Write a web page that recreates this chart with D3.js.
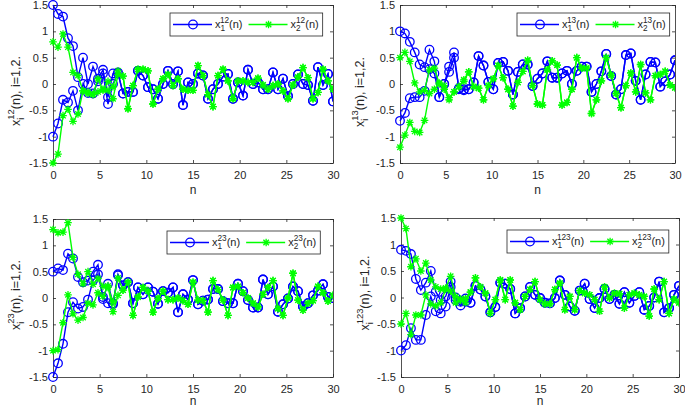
<!DOCTYPE html>
<html lang="en">
<head>
<meta charset="UTF-8">
<title>x_i(n), i=1,2</title>
<script src="https://d3js.org/d3.v7.min.js"></script>
<style>
  body { margin: 0; background: #fff; font-family: "Liberation Sans", Arial, sans-serif; }
  svg text { fill: #262626; }
</style>
</head>
<body>
<div id="container"></div>
<script>
// 57 samples from n = 0 to n = 30
const nCount = 57;
const nTicks = [0, 5, 10, 15, 20, 25, 30];
const yTicks = [-1.5, -1, -0.5, 0, 0.5, 1, 1.5];
const names = ["12", "13", "23", "123"];

// first 14 samples of each trajectory (two initial conditions a / b), then shared tail
// ---- x^12 ----
const x12_1a = [1.5, 1.33, 1.28, 0.87, 0.72, 0.13, 0.5, 0.0, 0.33, 0.1, 0.27, -0.25, 0.2, 0.2];
const x12_1b = [-1.0, -0.75, -0.3, -0.35, -0.13, -0.5, 0.0, -0.17, -0.18, 0.05, 0.2, -0.38, 0.0, 0.22];
const x12_2a = [0.8, 0.7, 0.95, 0.7, 0.22, 0.16, -0.13, -0.15, -0.2, 0.1, -0.12, 0.05, -0.05, 0.25];
const x12_2b = [-1.5, -1.33, -0.6, -0.48, -0.71, -0.57, -0.13, -0.18, -0.2, -0.15, -0.1, -0.12, -0.28, 0.18];
const x12_1t = [-0.18, -0.15, -0.15, 0.25, 0.16, -0.06, -0.1, -0.28, 0.0, 0.25, 0.0, 0.24, -0.4, 0.03, 0.0, 0.2, 0.16, -0.28, -0.1, 0.0, 0.14, 0.19, -0.28, 0.03, -0.22, 0.27, 0.0, 0.03, -0.1, -0.1, 0.22, -0.1, 0.1, -0.23, 0.0, 0.18, 0.0, -0.02, -0.32, 0.32, -0.02, 0.19, -0.33];
const x12_2t = [0.15, -0.47, -0.03, 0.28, 0.28, 0.25, -0.38, -0.1, 0.1, 0.18, -0.03, 0.1, -0.1, -0.12, -0.12, 0.35, 0.16, -0.2, -0.43, 0.16, 0.28, 0.06, -0.28, 0.06, 0.06, 0.03, 0.03, 0.11, -0.02, -0.1, -0.03, 0.0, -0.13, -0.28, -0.02, 0.13, 0.31, 0.12, -0.28, -0.16, 0.28, 0.06, -0.1];

// ---- x^13 ----
const x13_1a = [1.0, 0.96, 0.8, 0.6, 0.37, 0.32, 0.65, 0.43, -0.25, 0.0, 0.33, 0.6, -0.1, -0.12];
const x13_1b = [-0.7, -0.55, -0.27, -0.25, -0.25, -0.13, 0.28, 0.2, -0.25, 0.0, 0.23, 0.5, -0.08, -0.1];
const x13_2a = [0.5, 0.6, 0.43, 0.02, -0.15, -0.12, 0.27, 0.3, 0.0, -0.03, -0.26, -0.15, -0.05, 0.08];
const x13_2b = [-1.2, -0.97, -0.73, -0.9, -0.92, -0.69, -0.18, -0.1, 0.02, -0.1, -0.3, -0.15, -0.05, 0.05];
const x13_1t = [-0.1, 0.03, 0.53, 0.35, 0.04, -0.1, 0.4, 0.42, 0.25, -0.2, 0.23, 0.37, 0.37, -0.04, 0.1, 0.2, 0.43, 0.12, 0.12, 0.2, 0.25, 0.0, 0.25, 0.33, 0.33, -0.15, 0.0, 0.24, 0.57, 0.15, -0.2, -0.1, 0.55, 0.58, 0.06, -0.3, 0.18, 0.42, 0.41, -0.05, 0.05, 0.18, 0.45];
const x13_2t = [0.23, -0.05, -0.08, -0.3, -0.03, 0.1, 0.35, 0.12, -0.1, -0.42, 0.03, 0.24, 0.45, -0.03, -0.38, -0.4, 0.27, 0.44, 0.36, -0.4, -0.35, -0.1, 0.5, 0.3, 0.3, -0.56, -0.3, 0.06, 0.5, 0.17, -0.18, -0.45, -0.03, 0.21, -0.15, 0.37, -0.17, -0.3, 0.16, 0.18, 0.24, -0.02, -0.07];

// ---- x^23 ----
const x23_1a = [0.5, 0.56, 0.53, 0.84, 0.75, 0.4, 0.3, 0.33, 0.5, 0.63, -0.02, 0.27, -0.1, 0.45];
const x23_1b = [-1.5, -1.24, -0.87, -0.27, -0.08, -0.2, -0.17, -0.03, 0.33, 0.45, 0.02, -0.1, -0.12, 0.43];
const x23_2a = [1.3, 1.24, 1.25, 1.43, 0.77, 0.45, 0.27, 0.5, 0.26, 0.37, 0.22, 0.2, -0.08, 0.38];
const x23_2b = [-1.0, -0.98, -0.47, 0.06, -0.3, -0.42, -0.37, -0.1, -0.13, 0.1, 0.03, 0.23, -0.26, 0.05];
const x23_1t = [0.24, 0.3, -0.1, 0.2, 0.07, 0.2, 0.12, -0.11, 0.13, 0.1, 0.2, -0.27, 0.07, -0.03, 0.34, -0.12, -0.05, -0.03, 0.17, 0.17, -0.06, -0.1, -0.1, 0.27, 0.13, -0.04, -0.18, -0.18, 0.35, 0.07, 0.22, -0.26, -0.12, -0.01, 0.22, 0.13, -0.16, -0.1, 0.05, 0.14, 0.26, 0.02, 0.0];
const x23_2t = [0.15, 0.3, -0.33, 0.02, 0.2, 0.13, -0.27, -0.01, 0.13, -0.03, -0.03, 0.0, -0.05, -0.12, 0.3, -0.04, -0.05, -0.27, 0.33, 0.16, -0.04, -0.33, 0.2, 0.22, 0.1, 0.0, -0.1, -0.17, 0.07, 0.2, 0.33, -0.2, -0.33, 0.0, 0.47, -0.04, -0.23, -0.1, -0.05, 0.22, 0.1, -0.06, 0.05];

// ---- x^123 ----
const x123_1a = [0.9, 0.88, 0.82, 0.35, 0.14, 0.28, 0.5, 0.11, -0.05, 0.02, 0.3, 0.0, -0.08, -0.02];
const x123_1b = [-1.0, -0.9, -0.58, -0.8, -0.8, -0.33, 0.02, -0.26, -0.3, -0.17, 0.2, -0.05, -0.15, -0.08];
const x123_2a = [1.5, 1.3, 0.58, 0.73, 0.5, 0.65, 0.33, 0.2, 0.16, 0.18, 0.4, 0.02, -0.03, -0.1];
const x123_2b = [-0.5, -0.3, -0.7, -0.33, -0.33, 0.05, -0.12, -0.16, -0.1, 0.15, 0.12, -0.1, -0.05, -0.02];
const x123_1t = [-0.1, 0.22, 0.15, 0.02, -0.28, -0.18, 0.28, 0.26, 0.16, -0.3, -0.2, 0.02, 0.2, 0.05, -0.01, -0.1, -0.11, -0.01, 0.32, 0.05, -0.17, -0.25, 0.13, 0.26, -0.03, -0.2, -0.01, 0.16, -0.03, 0.05, -0.12, 0.1, -0.1, 0.03, 0.1, -0.23, -0.16, 0.0, 0.3, -0.28, -0.2, 0.05, 0.22];
const x123_2t = [0.1, 0.37, 0.2, 0.08, -0.3, -0.04, 0.33, -0.04, 0.33, -0.1, -0.23, 0.02, 0.15, 0.3, -0.04, -0.12, -0.12, 0.15, 0.27, -0.23, 0.02, -0.23, 0.13, 0.08, 0.05, -0.04, -0.26, 0.2, -0.01, 0.08, 0.07, -0.2, 0.05, 0.08, 0.05, 0.02, -0.35, 0.16, -0.04, 0.3, -0.3, -0.03, -0.1, 0.2];

const series = {
  "12":  [x12_1a.concat(x12_1t), x12_1b.concat(x12_1t), x12_2a.concat(x12_2t), x12_2b.concat(x12_2t)],
  "13":  [x13_1a.concat(x13_1t), x13_1b.concat(x13_1t), x13_2a.concat(x13_2t), x13_2b.concat(x13_2t)],
  "23":  [x23_1a.concat(x23_1t), x23_1b.concat(x23_1t), x23_2a.concat(x23_2t), x23_2b.concat(x23_2t)],
  "123": [x123_1a.concat(x123_1t), x123_1b.concat(x123_1t), x123_2a.concat(x123_2t), x123_2b.concat(x123_2t)]
};

const layout = [
  {left: 53,  top: 5,   w: 280, h: 158, legX: 170, legY: 13,  labX: 20,  labY: 91,  nY: 31},
  {left: 400, top: 5,   w: 275, h: 158, legX: 517, legY: 13,  labX: 364, labY: 92,  nY: 31},
  {left: 53,  top: 219, w: 280, h: 158, legX: 167, legY: 231, labX: 20,  labY: 295, nY: 28},
  {left: 401, top: 218, w: 278, h: 159, legX: 507, legY: 230, labX: 369, labY: 293, nY: 28}
];

const BLUE = "#0000ff", GREEN = "#00ff00", AX = "#262626";

const svg = d3.select("#container").append("svg")
  .attr("width", 685).attr("height", 410);

// text like x_i^{12}(n): sub and sup stacked at the same x
function richText(sel, base, sub, sup, rest, fs) {
  const t = sel.append("text").style("font-size", fs + "px");
  t.append("tspan").text(base);
  const s = t.append("tspan").attr("dy", fs * 0.3).style("font-size", (fs * 0.75) + "px").text(sub);
  const w = s.node().getComputedTextLength();
  t.append("tspan").attr("dx", -w).attr("dy", -fs * 0.78).style("font-size", (fs * 0.75) + "px").text(sup);
  t.append("tspan").attr("dy", fs * 0.48).text(rest);
  return t;
}

function star(s) {
  const k = s * 0.72;
  return `M${-s},0L${s},0M0,${-s}L0,${s}M${-k},${-k}L${k},${k}M${-k},${k}L${k},${-k}`;
}

function drawPanel(name, p) {
  const g = svg.append("g").attr("transform", `translate(${p.left},${p.top})`);
  const x = d3.scaleLinear().domain([0, 30]).range([0, p.w]);
  const y = d3.scaleLinear().domain([-1.5, 1.5]).range([p.h, 0]);
  const step = 30 / (nCount - 1);

  g.append("rect").attr("width", p.w).attr("height", p.h).attr("fill", "#fff");

  const fmt = d => String(d);
  const styleAxis = a => {
    a.selectAll("path").attr("stroke", AX).attr("stroke-width", 0.8);
    a.selectAll("line").attr("stroke", AX).attr("stroke-width", 0.8);
    a.selectAll("text").attr("fill", AX).style("font-size", "11px")
      .style("font-family", '"Liberation Sans", Arial, sans-serif');
  };
  g.append("g").attr("transform", `translate(0,${p.h})`)
    .call(d3.axisBottom(x).tickValues(nTicks).tickFormat(fmt).tickSizeInner(-3).tickSizeOuter(0).tickPadding(8))
    .call(styleAxis);
  g.append("g")
    .call(d3.axisLeft(y).tickValues(yTicks).tickFormat(fmt).tickSizeInner(-3).tickSizeOuter(0).tickPadding(5))
    .call(styleAxis);
  g.append("g")
    .call(d3.axisTop(x).tickValues(nTicks).tickFormat("").tickSizeInner(-3).tickSizeOuter(0))
    .call(styleAxis);
  g.append("g").attr("transform", `translate(${p.w},0)`)
    .call(d3.axisRight(y).tickValues(yTicks).tickFormat("").tickSizeInner(-3).tickSizeOuter(0))
    .call(styleAxis);

  const clipId = "clip" + name;
  g.append("clipPath").attr("id", clipId).append("rect")
    .attr("x", -6).attr("y", -6).attr("width", p.w + 6).attr("height", p.h + 12);
  const plot = g.append("g").attr("clip-path", `url(#${clipId})`);

  const line = d3.line().x((d, i) => x(i * step)).y(d => y(d));
  const tr = series[name];
  const cols = [BLUE, BLUE, GREEN, GREEN];

  tr.forEach((vals, k) => {
    const c = cols[k];
    plot.append("path").datum(vals).attr("d", line)
      .attr("fill", "none").attr("stroke", c).attr("stroke-width", 1.4);
    const pts = plot.append("g").selectAll("g.m").data(vals).enter().append("g")
      .attr("transform", (d, i) => `translate(${x(i * step)},${y(d)})`);
    if (k < 2) {
      pts.append("circle").attr("r", 4.3).attr("fill", "none")
        .attr("stroke", c).attr("stroke-width", 1.3);
    } else {
      pts.append("path").attr("d", star(3.8)).attr("fill", "none")
        .attr("stroke", c).attr("stroke-width", 1.3);
    }
  });

  // x label
  g.append("text").attr("x", p.w / 2).attr("y", p.h + p.nY)
    .attr("text-anchor", "middle").style("font-size", "12px").text("n");

  // y label
  const yl = svg.append("g").attr("transform", `translate(${p.labX},${p.labY}) rotate(-90)`);
  richText(yl, "x", "i", name, "(n), i=1,2.", 12.5).attr("text-anchor", "middle");

  // legend
  const lg = svg.append("g").attr("transform", `translate(${p.legX},${p.legY})`);
  const box = lg.append("rect").attr("height", 23).attr("fill", "#fff")
    .attr("stroke", AX).attr("stroke-width", 0.8);
  let xs = 3;
  [[BLUE, "1"], [GREEN, "2"]].forEach(([c, idx], k) => {
    lg.append("line").attr("x1", xs).attr("x2", xs + 39).attr("y1", 11.5).attr("y2", 11.5)
      .attr("stroke", c).attr("stroke-width", 1.4);
    if (k === 0) {
      lg.append("circle").attr("cx", xs + 20).attr("cy", 11.5).attr("r", 4.3)
        .attr("fill", "none").attr("stroke", c).attr("stroke-width", 1.3);
    } else {
      lg.append("path").attr("transform", `translate(${xs + 20},11.5)`).attr("d", star(3.8))
        .attr("fill", "none").attr("stroke", c).attr("stroke-width", 1.3);
    }
    const t = richText(lg, "x", idx, name, "(n)", 11)
      .attr("transform", `translate(${xs + 42},15)`);
    xs = xs + 42 + t.node().getBBox().width + 6;
  });
  box.attr("width", xs - 2);
}

names.forEach((nm, i) => drawPanel(nm, layout[i]));
</script>
</body>
</html>
